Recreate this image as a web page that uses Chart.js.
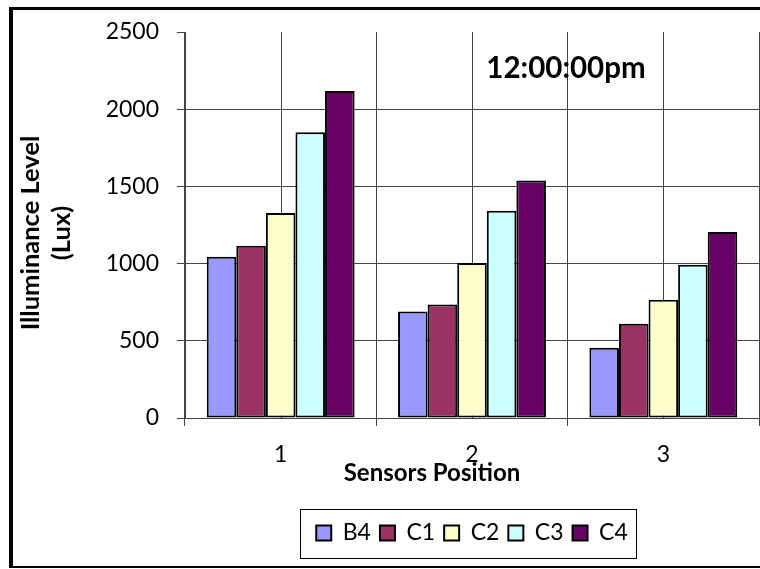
<!DOCTYPE html>
<html>
<head>
<meta charset="utf-8">
<script src="https://cdn.jsdelivr.net/npm/chart.js@4.4.0/dist/chart.umd.min.js"></script>
<style>
  html, body { margin: 0; padding: 0; background: #fff; }
  #wrap { position: relative; width: 760px; height: 569px; overflow: hidden; }
  #frame { position: absolute; left: 9px; top: 7px; width: 800px; height: 556px;
           border-left: 4px solid #000; border-top: 3px solid #000; border-bottom: 2px solid #000; }
  canvas { position: absolute; left: 0; top: 0; }
</style>
</head>
<body>
<div id="wrap">
  <div id="frame"></div>
  <canvas id="chart" width="760" height="569"></canvas>
</div>
<script>
// data
const categories = ['1', '2', '3'];
const seriesNames = ['B4', 'C1', 'C2', 'C3', 'C4'];
const b4 = [1045, 690, 455];
const c1 = [1115, 735, 610];
const c2 = [1328, 1004, 766];
const c3 = [1850, 1343, 993];
const c4 = [2118, 1538, 1205];
const yTicks = [0, 500, 1000, 1500, 2000, 2500];
const chartTitle = '12:00:00pm';
const yTitle = ['Illuminance Level', '(Lux)'];
const xTitle = 'Sensors Position';

const seriesData = [b4, c1, c2, c3, c4];
const colors = ['#9999FF', '#993366', '#FFFFCC', '#CCFFFF', '#660066'];
const FONT = 'Lato';
const GRID = '#444';

// extra vertical lines through the middle of each category (excel style)
const centerLines = {
  id: 'centerLines',
  beforeDatasetsDraw(chart) {
    const { ctx, chartArea, scales } = chart;
    ctx.save();
    ctx.strokeStyle = GRID;
    ctx.lineWidth = 1;
    categories.forEach((c, i) => {
      const x = Math.round(scales.x.getPixelForValue(i)) + 0.5;
      ctx.beginPath();
      ctx.moveTo(x, chartArea.top);
      ctx.lineTo(x, chartArea.bottom);
      ctx.stroke();
    });
    ctx.restore();
  }
};

// titles placed like the original (chart title inside the plot, x title off-centre)
const texts = {
  id: 'texts',
  afterDraw(chart) {
    const ctx = chart.ctx;
    ctx.save();
    ctx.fillStyle = '#000';
    ctx.textAlign = 'center';
    ctx.textBaseline = 'alphabetic';
    ctx.font = 'bold 29.5px ' + FONT;
    ctx.fillText(chartTitle, 566, 78);

    ctx.textBaseline = 'middle';
    ctx.font = 'bold 24px ' + FONT;
    ctx.fillText(xTitle, 432, 473);

    ctx.font = 'bold 25.5px ' + FONT;
    ctx.textBaseline = 'alphabetic';
    ctx.translate(0, 233);
    ctx.rotate(-Math.PI / 2);
    ctx.fillText(yTitle[0], 0, 39);
    ctx.fillText(yTitle[1], 0, 70);
    ctx.restore();
  }
};

// move the legend under the plot centre and draw a box round it
const legendBox = {
  id: 'legendBox',
  afterLayout(chart) {
    const lg = chart.legend;
    const boxes = lg.legendHitBoxes;
    if (!boxes || !boxes.length) return;
    const dx = (chart.chartArea.left + chart.chartArea.right) / 2 - (lg.left + lg.right) / 2;
    const dy = 533 - (lg.top + lg.options.labels.padding + boxes[0].height / 2);
    lg.left += dx; lg.right += dx;
    lg.top += dy; lg.bottom += dy;
  },
  afterDraw(chart) {
    const boxes = chart.legend.legendHitBoxes;
    if (!boxes || !boxes.length) return;
    const left = Math.min(...boxes.map(b => b.left)) - 16;
    const right = Math.max(...boxes.map(b => b.left + b.width)) + 8;
    const mid = boxes[0].top + boxes[0].height / 2;
    const ctx = chart.ctx;
    ctx.save();
    ctx.strokeStyle = '#000';
    ctx.lineWidth = 1;
    ctx.strokeRect(Math.round(left) + 0.5, Math.round(mid - 24.5) + 0.5, Math.round(right - left), 49);
    ctx.restore();
  }
};

function build() {
  const ctx = document.getElementById('chart').getContext('2d');
  new Chart(ctx, {
    type: 'bar',
    data: {
      labels: categories,
      datasets: seriesNames.map((name, i) => ({
        label: name,
        data: seriesData[i],
        backgroundColor: colors[i],
        borderColor: '#000',
        borderWidth: 2,
        borderSkipped: false
      }))
    },
    options: {
      responsive: false,
      animation: false,
      layout: { padding: { top: 32, right: 1, left: 0, bottom: 4 } },
      datasets: { bar: { categoryPercentage: 0.773, barPercentage: 1 } },
      plugins: {
        title: { display: false },
        tooltip: { enabled: false },
        legend: {
          position: 'bottom',
          labels: {
            boxWidth: 15, boxHeight: 15, padding: 9, color: '#000',
            font: { family: FONT, size: 23 }
          }
        }
      },
      scales: {
        x: {
          offset: true,
          grid: { offset: true, color: GRID, tickColor: GRID, tickLength: 8 },
          border: { color: GRID },
          ticks: { color: '#000', padding: 15, font: { family: FONT, size: 23 } },
          afterFit(s) {
            // keep the plot bottom where the original has it
            const lg = s.chart.legend;
            s.height = 569 - 32 - 4 - 386 - (lg ? lg.height : 0);
          }
        },
        y: {
          min: yTicks[0],
          max: yTicks[yTicks.length - 1],
          afterBuildTicks(s) { s.ticks = yTicks.map(v => ({ value: v })); },
          grid: {
            color: c => (c.tick && c.tick.value === yTicks[yTicks.length - 1]) ? 'rgba(0,0,0,0)' : GRID,
            tickColor: GRID, tickLength: 8
          },
          border: { color: GRID },
          ticks: { color: '#000', padding: 18, font: { family: FONT, size: 23 }, callback: v => String(v) },
          afterFit(s) { s.width = 185; }
        }
      }
    },
    plugins: [centerLines, texts, legendBox]
  });
}

Promise.all([
  document.fonts.load('22px ' + FONT),
  document.fonts.load('bold 22px ' + FONT)
]).then(build, build);
</script>
</body>
</html>
